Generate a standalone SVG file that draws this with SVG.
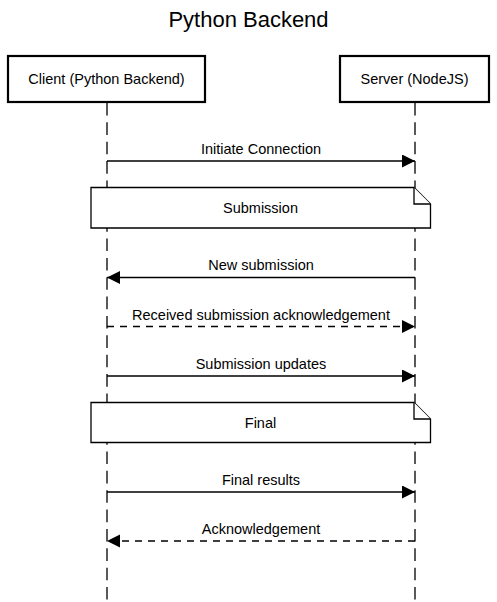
<svg xmlns="http://www.w3.org/2000/svg" width="497" height="602" viewBox="0 0 497 602">
<style>
text{font-family:"Liberation Sans",Arial,Helvetica,sans-serif;fill:#000;text-anchor:middle}
.title{font-size:22px}
.lbl{font-size:14.5px}
.actor{fill:#fff;stroke:#000;stroke-width:2.2}
.life{stroke:#000;stroke-width:1.3;stroke-dasharray:12.6 6.76;fill:none}
.msg{stroke:#000;stroke-width:1.3;fill:none;marker-end:url(#ah)}
.dash{stroke-dasharray:7 6}
.note{fill:#fff;stroke:#000;stroke-width:1.3}
</style>
<defs>
<marker id="ah" markerUnits="userSpaceOnUse" markerWidth="14" markerHeight="14" refX="13" refY="6.5" orient="auto">
<path d="M0,0 L13,6.5 L0,13 z" fill="#000"/>
</marker>
</defs>
<rect width="497" height="602" fill="#fff"/>
<text class="title" x="248.5" y="26.5">Python Backend</text>
<g id="lifelines">
<line class="life" x1="107" y1="103" x2="107" y2="602"/>
<line class="life" x1="415" y1="103" x2="415" y2="602"/>
</g>
<g id="client">
<rect class="actor" x="8" y="56" width="197" height="46"/>
<text class="lbl" x="106.5" y="84">Client (Python Backend)</text>
</g>
<g id="server">
<rect class="actor" x="340" y="56" width="149" height="46"/>
<text class="lbl" x="414.5" y="84">Server (NodeJS)</text>
</g>
<g id="connectors">
<line class="msg" x1="107" y1="161" x2="415" y2="161"/>
<text class="lbl" x="261" y="154">Initiate Connection</text>
<line class="msg" x1="415" y1="277.5" x2="107" y2="277.5"/>
<text class="lbl" x="261" y="270">New submission</text>
<line class="msg dash" x1="107" y1="326.5" x2="415" y2="326.5"/>
<text class="lbl" x="261" y="319.5">Received submission acknowledgement</text>
<line class="msg" x1="107" y1="376" x2="415" y2="376"/>
<text class="lbl" x="261" y="369">Submission updates</text>
<line class="msg" x1="107" y1="492" x2="415" y2="492"/>
<text class="lbl" x="261" y="485">Final results</text>
<line class="msg dash" x1="415" y1="541" x2="107" y2="541"/>
<text class="lbl" x="261" y="534">Acknowledgement</text>
</g>
<g id="note-submission">
<path class="note" d="M91,187.5 H414 L430.5,204 V228 H91 Z"/>
<path class="note" d="M414,187.5 V204 H430.5" fill="none"/>
<text class="lbl" x="260.5" y="213">Submission</text>
</g>
<g id="note-final">
<path class="note" d="M91,402.5 H414 L430.5,419 V442.5 H91 Z"/>
<path class="note" d="M414,402.5 V419 H430.5" fill="none"/>
<text class="lbl" x="260.5" y="427.5">Final</text>
</g>
</svg>
